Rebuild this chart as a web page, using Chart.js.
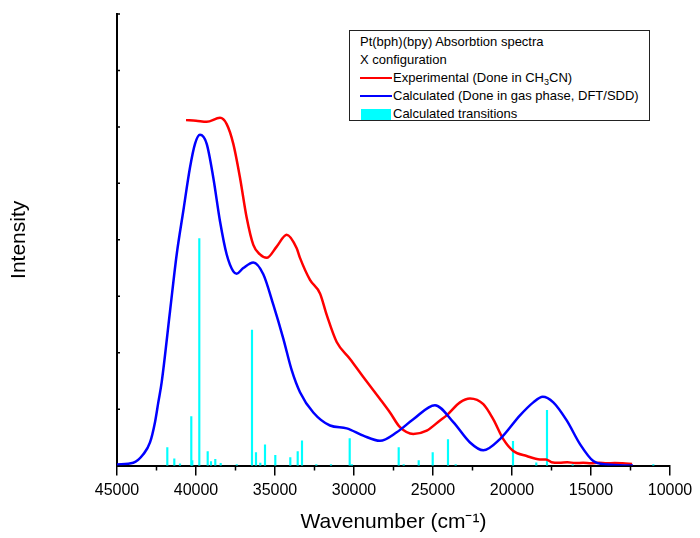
<!DOCTYPE html>
<html>
<head>
<meta charset="utf-8">
<script src="https://cdn.jsdelivr.net/npm/chart.js@4/dist/chart.umd.min.js"></script>
<style>
  body { margin: 0; background: #fff; }
  #wrap { position: relative; width: 700px; height: 538px; }
  #legend {
    position: absolute; left: 349px; top: 30px; width: 301px; height: 91px;
    border: 1px solid #222; background: #fff;
    font: 13px "Liberation Sans", Arial, sans-serif; color: #000;
    padding: 2px 0 0 10px; box-sizing: border-box; line-height: 18px;
  }
  #legend .row { display: flex; align-items: center; height: 18px; white-space: nowrap; }
  #legend .swatch { width: 32px; margin-right: 1px; }
  #legend sub { font-size: 9px; line-height: 0; vertical-align: -3px; }
</style>
</head>
<body>
<div id="wrap">
  <canvas id="spectrum" width="700" height="538"></canvas>
  <div id="legend"></div>
</div>
<script>
// Experimental spectrum (red), wavenumber in cm-1 and intensity (arb. units)
var expWavenumber = [40633, 40000, 39323, 38481, 38057, 37639, 37215, 36791, 36373, 35950, 35526, 34893, 34260, 33627, 33418, 32785, 32152, 31728, 31095, 30253, 29412, 28355, 27722, 27089, 26247, 25399, 24557, 24133, 23291, 22658, 21816, 21183, 20551, 19918, 19070, 18228, 17848, 17500, 17000, 16500, 16000, 15500, 15000, 14500, 14000, 13500, 13000, 12400];
var expIntensity = [6.12, 6.11, 6.09, 6.16, 6.05, 5.70, 5.10, 4.39, 3.91, 3.74, 3.68, 3.88, 4.09, 3.85, 3.68, 3.29, 3.05, 2.67, 2.19, 1.89, 1.57, 1.18, 0.94, 0.68, 0.56, 0.62, 0.80, 0.89, 1.12, 1.19, 1.09, 0.82, 0.47, 0.26, 0.17, 0.11, 0.11, 0.06, 0.05, 0.06, 0.045, 0.05, 0.04, 0.05, 0.04, 0.045, 0.04, 0.03];

// Calculated spectrum (blue)
var calcWavenumber = [45000, 43968, 43335, 42911, 42595, 42386, 42171, 41646, 41222, 40804, 40380, 40063, 39747, 39323, 38905, 38481, 38057, 37639, 37424, 37006, 36373, 35741, 35108, 34475, 33943, 33418, 32576, 31519, 30462, 29412, 28355, 27298, 26247, 24874, 23716, 22658, 21816, 20760, 19494, 18652, 18057, 17386, 16538, 15696, 14854, 14006, 12342];
var calcIntensity = [0.02, 0.05, 0.20, 0.41, 0.77, 1.12, 1.48, 2.73, 3.74, 4.51, 5.28, 5.70, 5.86, 5.70, 5.10, 4.33, 3.74, 3.44, 3.40, 3.50, 3.60, 3.39, 2.85, 2.25, 1.69, 1.30, 0.94, 0.71, 0.66, 0.53, 0.44, 0.59, 0.82, 1.07, 0.77, 0.41, 0.27, 0.47, 0.89, 1.12, 1.22, 1.12, 0.80, 0.38, 0.08, 0.02, 0.0];

// Calculated transitions (cyan sticks)
var transWavenumber = [41816, 41373, 41013, 40298, 40234, 39791, 39260, 39051, 38779, 38437, 37424, 36456, 36203, 35930, 35633, 34981, 34032, 33563, 33291, 32387, 31456, 30272, 30127, 27171, 26855, 25905, 25019, 24051, 23564, 19937, 18463, 17785, 16158, 11057];
var transStrength = [0.32, 0.12, 0.03, 0.87, 0.09, 4.02, 0.25, 0.07, 0.11, 0.04, 0.02, 2.40, 0.23, 0.045, 0.37, 0.18, 0.14, 0.25, 0.44, 0.02, 0.02, 0.48, 0.02, 0.32, 0.02, 0.09, 0.23, 0.46, 0.02, 0.43, 0.05, 0.98, 0.02, 0.02];

// Axis ticks
var majorTicks = [45000, 40000, 35000, 30000, 25000, 20000, 15000, 10000];
var minorTicks = [42500, 37500, 32500, 27500, 22500, 17500, 12500];
var yTicks = [1, 2, 3, 4, 5, 6, 7, 8];

function toPoints(xs, ys) {
  return xs.map(function (x, i) { return { x: x, y: ys[i] }; });
}

// minor ticks on x (outward) and short inward ticks on y
var tickMarks = {
  id: 'tickMarks',
  afterDraw: function (chart) {
    var ctx = chart.ctx, x = chart.scales.x, y = chart.scales.y;
    ctx.save();
    ctx.strokeStyle = '#000';
    ctx.lineWidth = 1.5;
    ctx.beginPath();
    minorTicks.forEach(function (v) {
      var px = x.getPixelForValue(v);
      ctx.moveTo(px, y.bottom);
      ctx.lineTo(px, y.bottom + 5);
    });
    yTicks.forEach(function (v) {
      var py = y.getPixelForValue(v);
      ctx.moveTo(x.left, py);
      ctx.lineTo(x.left + 3, py);
    });
    ctx.stroke();
    ctx.restore();
  }
};

Chart.defaults.font.family = '"Liberation Sans", Arial, sans-serif';
Chart.defaults.color = '#000';

var ctx = document.getElementById('spectrum');
var chart = new Chart(ctx, {
  type: 'line',
  data: {
    datasets: [
      {
        label: 'Experimental (Done in CH<sub>3</sub>CN)',
        data: toPoints(expWavenumber, expIntensity),
        borderColor: '#ff0000',
        borderWidth: 2.5,
        pointRadius: 0,
        cubicInterpolationMode: 'monotone',
        fill: false,
        order: 2
      },
      {
        label: 'Calculated (Done in gas phase, DFT/SDD)',
        data: toPoints(calcWavenumber, calcIntensity),
        borderColor: '#0000ff',
        borderWidth: 2.5,
        pointRadius: 0,
        cubicInterpolationMode: 'monotone',
        fill: false,
        order: 1
      },
      {
        type: 'bar',
        label: 'Calculated transitions',
        data: toPoints(transWavenumber, transStrength),
        backgroundColor: '#00ffff',
        borderWidth: 0,
        barThickness: 1.5,
        order: 3
      }
    ]
  },
  options: {
    responsive: false,
    animation: false,
    layout: { padding: { top: 14, right: 30, left: 0, bottom: 0 } },
    plugins: {
      legend: { display: false },
      tooltip: { enabled: false }
    },
    scales: {
      x: {
        type: 'linear',
        reverse: true,
        min: 10000,
        max: 45000,
        offset: false,
        border: { display: true, color: '#000', width: 2 },
        grid: { drawOnChartArea: false, drawTicks: true, tickLength: 10, color: '#000', lineWidth: 1.5, offset: false },
        ticks: {
          stepSize: 5000,
          padding: 5,
          maxRotation: 0,
          font: { size: 16 },
          callback: function (v) { return majorTicks.indexOf(v) >= 0 ? String(v) : ''; }
        },
        title: {
          display: true,
          text: 'Wavenumber (cm\u207B\u00B9)',
          font: { size: 21 },
          padding: { top: 5, bottom: 3 }
        }
      },
      y: {
        min: 0,
        max: 8,
        border: { display: true, color: '#000', width: 2 },
        grid: { display: false, drawTicks: false },
        ticks: { display: false },
        title: {
          display: true,
          text: 'Intensity',
          font: { size: 21 },
          padding: { top: 7, bottom: 0 }
        },
        afterFit: function (scale) { scale.width = 117; }
      }
    }
  },
  plugins: [tickMarks]
});

// legend box built from the datasets
var legend = document.getElementById('legend');
var html = '<div class="row">Pt(bph)(bpy) Absorbtion spectra</div><div class="row">X configuration</div>';
chart.data.datasets.forEach(function (ds) {
  var sw = ds.type === 'bar'
    ? '<span class="swatch" style="height:11px;margin-left:1px;width:30px;margin-right:2px;background:' + ds.backgroundColor + '"></span>'
    : '<span class="swatch" style="height:2px;background:' + ds.borderColor + '"></span>';
  html += '<div class="row">' + sw + '<span>' + ds.label + '</span></div>';
});
legend.innerHTML = html;
</script>
</body>
</html>
